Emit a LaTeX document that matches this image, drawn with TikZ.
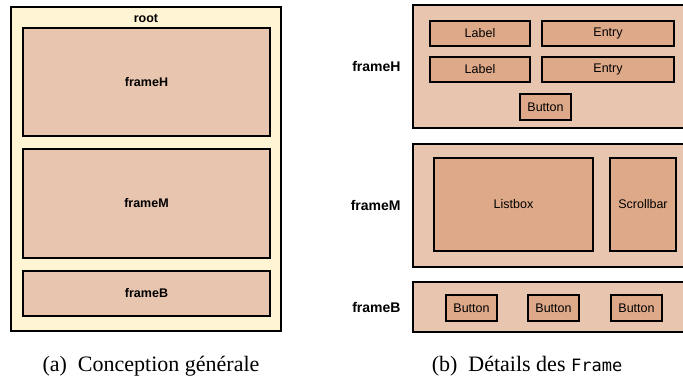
\documentclass[tikz,border=0pt]{standalone}
\usepackage{fontspec}
\setmainfont{Liberation Serif}
\setsansfont{Liberation Sans}
\setmonofont{DejaVu Sans Mono}
\usepackage{xcolor}
\usepackage{tikz}
\usetikzlibrary{positioning}

\definecolor{rootfill}{RGB}{255,244,212}
\definecolor{framefill}{RGB}{232,197,174}
\definecolor{widgetfill}{RGB}{222,169,136}

\begin{document}
\begin{tikzpicture}[
    x=1pt, y=-1pt,
    rootbox/.style={rectangle, draw, line width=2.6pt, fill=rootfill},
    framebox/.style={rectangle, draw, line width=1.8pt, fill=framefill, font=\sffamily\bfseries\fontsize{12.5}{14}\selectfont},
    widget/.style={rectangle, draw, line width=1.2pt, fill=widgetfill, font=\sffamily\fontsize{12.5}{14}\selectfont},
    sidelabel/.style={font=\sffamily\bfseries\fontsize{14}{16}\selectfont, anchor=east},
    caption/.style={font=\fontsize{22}{26}\selectfont, anchor=base}
]
    \useasboundingbox (0,0) rectangle (683,379);

    % (a) conception generale
    \node[rootbox, minimum width=270pt, minimum height=324pt] (root) at (146,169) {};
    \node[font=\sffamily\bfseries\fontsize{12.5}{14}\selectfont] (rootlbl) at (146,18) {root};
    \node[framebox, minimum width=247pt, minimum height=108pt] (fH) at (146.5,82) {frameH};
    \node[framebox, minimum width=247pt, minimum height=109pt] (fM) at (146.5,203.5) {frameM};
    \node[framebox, minimum width=247pt, minimum height=45pt] (fB) at (146.5,293.5) {frameB};

    % (b) details des Frame
    \node[framebox, minimum width=282pt, minimum height=123pt] (rH) at (554,66.5) {};
    \node[framebox, minimum width=282pt, minimum height=123pt] (rM) at (554,205.5) {};
    \node[framebox, minimum width=282pt, minimum height=50pt] (rB) at (554,307) {};

    \node[sidelabel, left=8pt of rH.west] (lblH) {frameH};
    \node[sidelabel, left=8pt of rM.west] (lblM) {frameM};
    \node[sidelabel, left=8pt of rB.west] (lblB) {frameB};

    \node[widget, minimum width=100pt, minimum height=25pt] (label1) at (480,33.5) {Label};
    \node[widget, minimum width=132pt, minimum height=25pt] (entry1) at (608,33.5) {Entry};
    \node[widget, minimum width=100pt, minimum height=25pt] (label2) at (480,69.5) {Label};
    \node[widget, minimum width=132pt, minimum height=25pt] (entry2) at (608,69.5) {Entry};
    \node[widget, minimum width=51pt, minimum height=26pt] (btnH) at (545.5,107) {Button};

    \node[widget, minimum width=159pt, minimum height=93pt] (listbox) at (513.5,204.5) {Listbox};
    \node[widget, minimum width=66pt, minimum height=93pt] (scroll) at (643,204.5) {Scrollbar};

    \foreach \bx [count=\i] in {471.5,553.5,636.5}
        \node[widget, minimum width=51pt, minimum height=26pt] (btnB\i) at (\bx,308) {Button};

    % captions
    \node[caption] (capA) at (151,371) {(a)\ \ Conception générale};
    \node[caption] (capB) at (527,371) {(b)\ \ Détails des {\ttfamily\fontsize{17}{20}\selectfont Frame}};
\end{tikzpicture}
\end{document}
